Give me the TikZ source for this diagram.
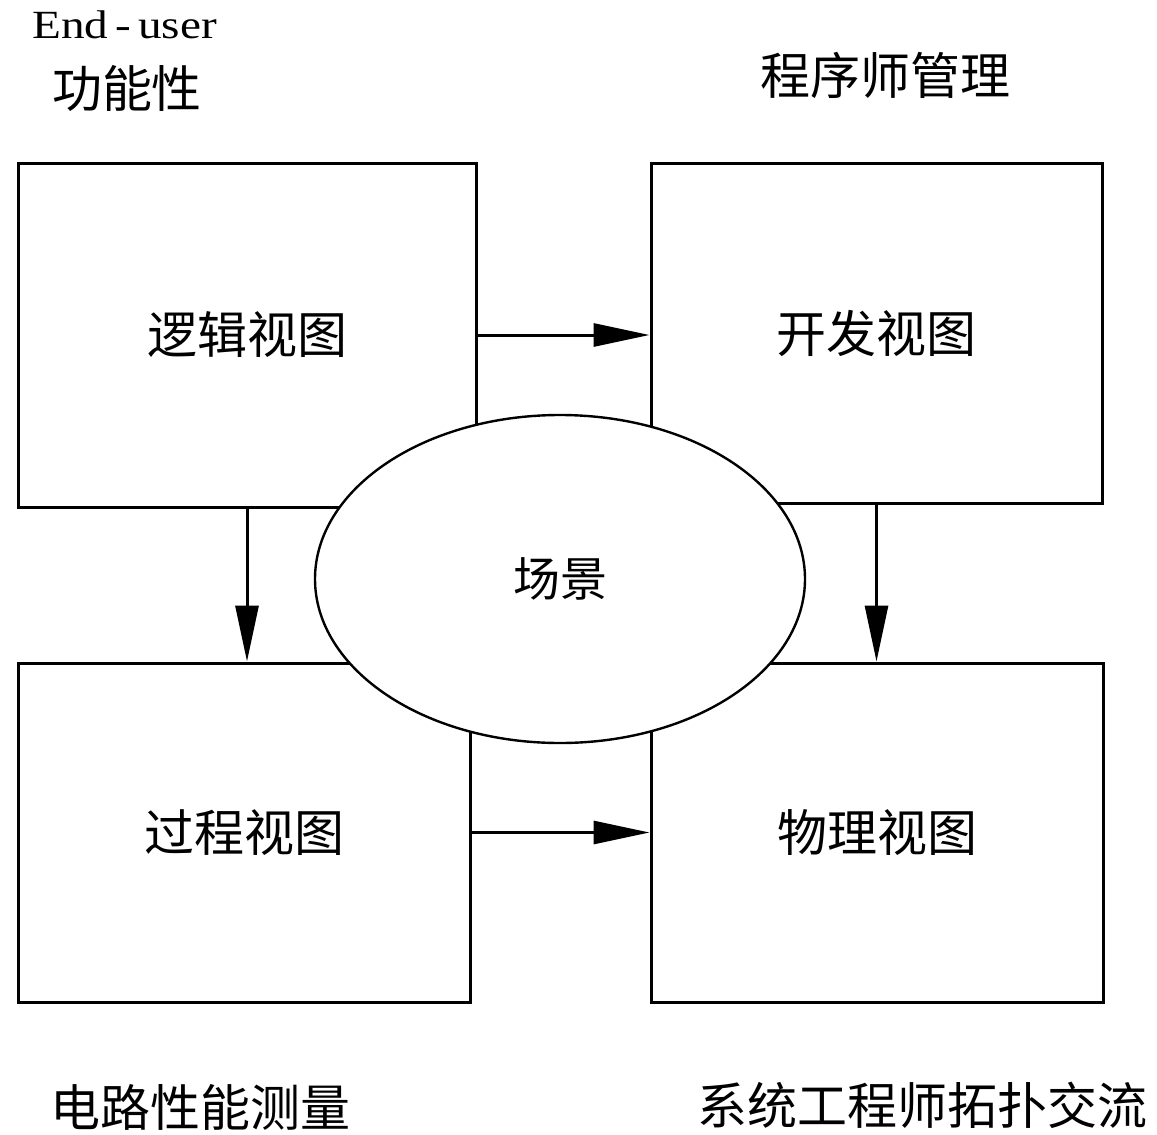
\documentclass[tikz,border=0pt]{standalone}
\usepackage{fontspec}
\usepackage{graphicx}
\setmainfont{Liberation Serif}
\newfontfamily\cjk{Noto Sans CJK SC}
\usetikzlibrary{arrows.meta,shapes.geometric}
\tikzset{
  viewbox/.style={draw=black, line width=3pt, fill=none, inner sep=0pt, font=\cjk\fontsize{50}{56}\selectfont},
  cjklabel/.style={inner sep=0pt, font=\cjk\fontsize{50}{56}\selectfont},
  flow/.style={line width=3pt, -{Triangle[length=56pt,width=23pt]}},
  scene/.style={ellipse, draw=black, fill=white, line width=2.4pt, inner sep=0pt, font=\cjk\fontsize{47}{52}\selectfont}
}
\begin{document}
\begin{tikzpicture}[x=1pt,y=-1pt]
\useasboundingbox (0,0) rectangle (1157,1135);
% boxes
\node[viewbox, minimum width=458pt, minimum height=344pt] (logic) at (247,335) {逻辑视图};
\node[viewbox, minimum width=451pt, minimum height=340pt] (dev) at (876.5,333) {开发视图};
\node[viewbox, minimum width=452pt, minimum height=339pt] (proc) at (244,832.5) {过程视图};
\node[viewbox, minimum width=452pt, minimum height=339pt] (phys) at (877,832.5) {物理视图};
% ellipse
\node[scene, minimum width=490pt, minimum height=328pt] (sc) at (560,579) {场景};
% arrows
\draw[flow] (logic.east) -- (logic.east -| dev.west);
\draw[flow] (proc.east) -- (proc.east -| phys.west);
\draw[flow] (logic.south) -- (logic.south |- proc.north);
\draw[flow] (dev.south) -- (dev.south |- phys.north);
% outer labels
\node[inner sep=0pt, anchor=base west, font=\fontsize{40}{46}\selectfont] (eu) at (32,38) {\scalebox{1.18}[1]{End\hspace{6pt}-\hspace{6pt}user}};
\node[cjklabel] (func) at (127,88) {功能性};
\node[cjklabel] (prog) at (885,75) {程序师管理};
\node[cjklabel] (perf) at (200,1107) {电路性能测量};
\node[cjklabel] (sys) at (922,1105) {系统工程师拓扑交流};
\end{tikzpicture}
\end{document}
